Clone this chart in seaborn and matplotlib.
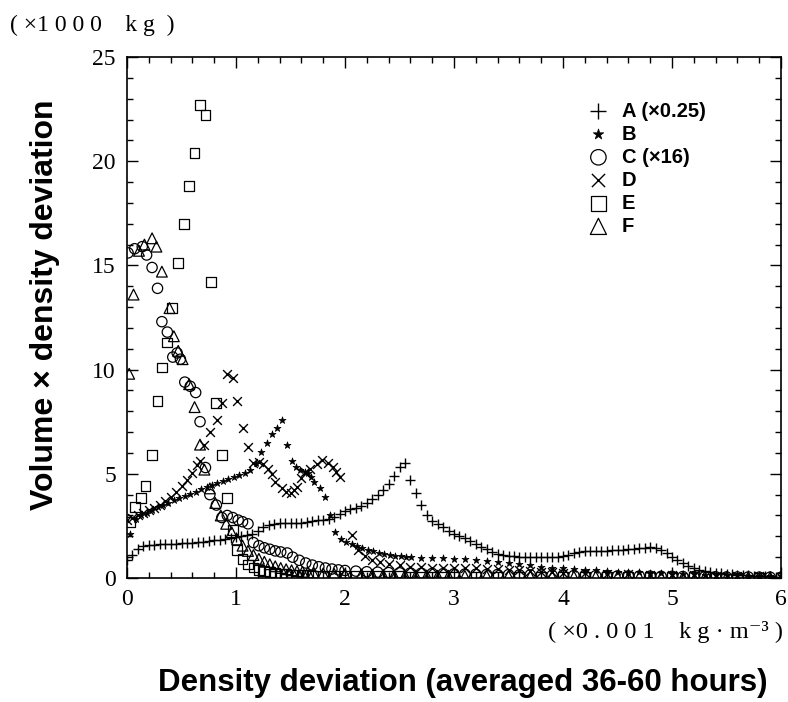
import matplotlib
matplotlib.use("Agg")
import matplotlib.pyplot as plt
import seaborn as sns
from matplotlib.ticker import MultipleLocator

sns.set_theme(style="ticks")
plt.rcParams["font.family"] = ["Liberation Serif", "DejaVu Serif"]
plt.rcParams["text.color"] = "black"

SANS = ["Liberation Sans", "DejaVu Sans"]
SERIF = ["Liberation Serif", "DejaVu Serif"]

# --- data (x: 0.001 kg/m3, y: 1000 kg) ---
A_x = [0.00, 0.05, 0.10, 0.15, 0.20, 0.25, 0.30, 0.35, 0.40, 0.45,
       0.50, 0.55, 0.60, 0.65, 0.70, 0.75, 0.80, 0.85, 0.90, 0.95,
       1.00, 1.05, 1.10, 1.15, 1.20, 1.25, 1.30, 1.35, 1.40, 1.45,
       1.50, 1.55, 1.60, 1.65, 1.70, 1.75, 1.80, 1.85, 1.90, 1.95,
       2.00, 2.05, 2.10, 2.15, 2.20, 2.25, 2.30, 2.35, 2.40, 2.45,
       2.50, 2.55, 2.60, 2.65, 2.70, 2.75, 2.80, 2.85, 2.90, 2.95,
       3.00, 3.05, 3.10, 3.15, 3.20, 3.25, 3.30, 3.35, 3.40, 3.45,
       3.50, 3.55, 3.60, 3.65, 3.70, 3.75, 3.80, 3.85, 3.90, 3.95,
       4.00, 4.05, 4.10, 4.15, 4.20, 4.25, 4.30, 4.35, 4.40, 4.45,
       4.50, 4.55, 4.60, 4.65, 4.70, 4.75, 4.80, 4.85, 4.90, 4.95,
       5.00, 5.05, 5.10, 5.15, 5.20, 5.25, 5.30, 5.35, 5.40, 5.45,
       5.50, 5.55, 5.60, 5.65, 5.70, 5.75, 5.80, 5.85, 5.90, 5.95,
       6.00]
A_y = [0.85, 1.10, 1.40, 1.52, 1.58, 1.60, 1.62, 1.63, 1.64, 1.65,
       1.66, 1.67, 1.70, 1.72, 1.75, 1.78, 1.80, 1.84, 1.87, 1.90,
       1.95, 2.00, 2.05, 2.12, 2.25, 2.45, 2.55, 2.60, 2.62, 2.62,
       2.63, 2.63, 2.65, 2.70, 2.72, 2.76, 2.80, 2.85, 2.92, 3.05,
       3.20, 3.30, 3.38, 3.45, 3.60, 3.80, 4.00, 4.20, 4.50, 4.90,
       5.35, 5.50, 4.70, 4.10, 3.50, 3.00, 2.75, 2.60, 2.45, 2.25,
       2.10, 2.00, 1.90, 1.78, 1.65, 1.50, 1.38, 1.25, 1.15, 1.10,
       1.06, 1.04, 1.02, 1.00, 1.00, 1.00, 1.00, 1.00, 1.00, 1.02,
       1.05, 1.10, 1.18, 1.25, 1.30, 1.30, 1.28, 1.28, 1.30, 1.32,
       1.32, 1.35, 1.38, 1.40, 1.42, 1.45, 1.48, 1.45, 1.35, 1.20,
       1.00, 0.85, 0.70, 0.58, 0.48, 0.40, 0.34, 0.29, 0.25, 0.22,
       0.19, 0.17, 0.15, 0.13, 0.12, 0.11, 0.10, 0.09, 0.08, 0.07,
       0.06]

B_x = [0.03, 0.08, 0.13, 0.18, 0.23, 0.28, 0.33, 0.38, 0.43, 0.48,
       0.53, 0.58, 0.63, 0.68, 0.73, 0.78, 0.83, 0.88, 0.93, 0.98,
       1.03, 1.08, 1.13, 1.18, 1.23, 1.28, 1.33, 1.38, 1.42, 1.47,
       1.51, 1.55, 1.59, 1.63, 1.66, 1.69, 1.72, 1.77, 1.82, 1.86,
       1.91, 1.96, 2.01, 2.06, 2.11, 2.16, 2.21, 2.26, 2.31, 2.36,
       2.41, 2.46, 2.51, 2.56, 2.61, 2.70, 2.80, 2.90, 3.00, 3.10,
       3.20, 3.30, 3.40, 3.50, 3.60, 3.70, 3.80, 3.90, 4.00, 4.10,
       4.20, 4.30, 4.40, 4.50, 4.60, 4.70, 4.80, 4.90, 5.00, 5.10,
       5.20, 5.30, 5.40, 5.50, 5.60, 5.70, 5.80, 5.90, 6.00]
B_y = [2.10, 2.85, 3.00, 3.12, 3.25, 3.40, 3.52, 3.62, 3.72, 3.85,
       3.95, 4.05, 4.15, 4.25, 4.35, 4.45, 4.55, 4.65, 4.75, 4.85,
       4.95, 5.05, 5.20, 5.50, 6.05, 6.50, 6.90, 7.20, 7.60, 6.40,
       5.60, 5.35, 5.20, 5.10, 5.05, 4.85, 4.60, 4.30, 3.90, 3.00,
       2.20, 1.85, 1.72, 1.62, 1.52, 1.44, 1.36, 1.28, 1.21, 1.16,
       1.11, 1.07, 1.04, 1.02, 1.00, 0.98, 0.96, 0.95, 0.93, 0.90,
       0.87, 0.83, 0.78, 0.72, 0.66, 0.60, 0.55, 0.50, 0.46, 0.42,
       0.39, 0.36, 0.33, 0.31, 0.29, 0.27, 0.25, 0.23, 0.21, 0.19,
       0.17, 0.16, 0.14, 0.13, 0.12, 0.11, 0.10, 0.09, 0.08]

C_x = [0.01, 0.07, 0.14, 0.18, 0.23, 0.28, 0.32, 0.37, 0.42, 0.46,
       0.49, 0.53, 0.58, 0.63, 0.67, 0.72, 0.76, 0.82, 0.87, 0.92,
       0.97, 1.02, 1.06, 1.11, 1.16, 1.21, 1.26, 1.31, 1.36, 1.41,
       1.47, 1.52, 1.58, 1.64, 1.70, 1.76, 1.82, 1.88, 1.94, 2.00,
       2.10, 2.20, 2.30, 2.40, 2.50, 2.60, 2.70, 2.80, 2.90, 3.00,
       3.10, 3.20, 3.30, 3.40, 3.50, 3.60, 3.70, 3.80, 3.90, 4.00,
       4.10, 4.20, 4.30, 4.40, 4.50, 4.60, 4.70, 4.80, 4.90, 5.00,
       5.10, 5.20, 5.30, 5.40, 5.50, 5.60, 5.70, 5.80, 5.90, 6.00]
C_y = [15.60, 15.80, 15.90, 15.50, 14.90, 13.90, 12.30, 11.80, 10.60, 10.80,
       10.50, 9.40, 9.20, 8.90, 7.50, 5.30, 4.00, 3.50, 2.90, 3.00,
       2.90, 2.78, 2.70, 2.60, 1.70, 1.55, 1.45, 1.38, 1.30, 1.25,
       1.20, 1.00, 0.85, 0.72, 0.62, 0.54, 0.48, 0.43, 0.39, 0.36,
       0.33, 0.30, 0.28, 0.26, 0.25, 0.24, 0.23, 0.22, 0.21, 0.20,
       0.19, 0.18, 0.17, 0.17, 0.16, 0.15, 0.15, 0.14, 0.13, 0.13,
       0.12, 0.12, 0.11, 0.11, 0.10, 0.10, 0.09, 0.09, 0.08, 0.08,
       0.07, 0.07, 0.06, 0.06, 0.05, 0.05, 0.05, 0.04, 0.04, 0.04]

D_x = [0.00, 0.05, 0.10, 0.15, 0.20, 0.25, 0.30, 0.35, 0.40, 0.45,
       0.50, 0.55, 0.60, 0.64, 0.67, 0.71, 0.76, 0.83, 0.87, 0.92,
       0.97, 1.01, 1.06, 1.11, 1.16, 1.21, 1.25, 1.29, 1.33, 1.36,
       1.42, 1.46, 1.50, 1.53, 1.56, 1.60, 1.63, 1.68, 1.74, 1.79,
       1.84, 1.89, 1.92, 1.95, 2.06, 2.12, 2.18, 2.25, 2.32, 2.40,
       2.50, 2.60, 2.70, 2.80, 2.90, 3.00, 3.10, 3.20, 3.30, 3.40,
       3.50, 3.60, 3.70, 3.80, 3.90, 4.00, 4.20, 4.40, 4.60, 4.80,
       5.00, 5.20, 5.40, 5.60, 5.80, 6.00]
D_y = [2.80, 2.90, 3.02, 3.12, 3.25, 3.38, 3.52, 3.70, 3.90, 4.15,
       4.40, 4.70, 5.05, 5.40, 5.60, 6.40, 7.00, 7.60, 8.40, 9.80,
       9.60, 8.50, 7.20, 6.30, 5.50, 5.55, 5.45, 5.25, 5.00, 4.60,
       4.30, 4.15, 4.10, 4.20, 4.35, 4.80, 5.10, 5.25, 5.45, 5.66,
       5.50, 5.35, 5.10, 4.85, 2.06, 1.35, 1.05, 0.88, 0.76, 0.67,
       0.60, 0.55, 0.52, 0.50, 0.49, 0.48, 0.47, 0.46, 0.45, 0.43,
       0.40, 0.37, 0.34, 0.31, 0.28, 0.26, 0.23, 0.20, 0.18, 0.16,
       0.14, 0.12, 0.10, 0.09, 0.08, 0.07]

E_x = [0.03, 0.07, 0.13, 0.17, 0.23, 0.28, 0.32, 0.37, 0.41, 0.47,
       0.52, 0.57, 0.62, 0.67, 0.72, 0.77, 0.82, 0.87, 0.92, 0.97,
       1.01, 1.06, 1.11, 1.16, 1.21, 1.26, 1.31, 1.36, 1.41, 1.46,
       1.51, 1.56, 1.61, 1.66, 1.71, 1.80, 1.90, 2.00, 2.10, 2.20,
       2.30, 2.40, 2.50, 2.60, 2.70, 2.80, 2.90, 3.00, 3.20, 3.40,
       3.60, 3.80, 4.00, 4.20, 4.40, 4.60, 4.80, 5.00, 5.20, 5.40,
       5.60, 5.80, 6.00]
E_y = [2.70, 3.40, 3.84, 4.40, 5.90, 8.50, 10.10, 11.30, 12.95, 15.10,
       17.00, 18.80, 20.40, 22.70, 22.20, 14.20, 8.40, 5.90, 3.84, 2.30,
       1.34, 0.90, 0.65, 0.50, 0.40, 0.33, 0.28, 0.24, 0.21, 0.19,
       0.17, 0.15, 0.14, 0.13, 0.12, 0.11, 0.10, 0.09, 0.09, 0.09,
       0.08, 0.08, 0.08, 0.07, 0.07, 0.07, 0.06, 0.06, 0.06, 0.05,
       0.05, 0.05, 0.04, 0.04, 0.04, 0.03, 0.03, 0.03, 0.03, 0.02,
       0.02, 0.02, 0.02]

F_x = [0.02, 0.06, 0.11, 0.16, 0.23, 0.27, 0.32, 0.39, 0.43, 0.47,
       0.51, 0.57, 0.62, 0.67, 0.71, 0.76, 0.81, 0.86, 0.91, 0.96,
       1.01, 1.06, 1.11, 1.16, 1.21, 1.26, 1.31, 1.36, 1.41, 1.46,
       1.51, 1.56, 1.61, 1.66, 1.71, 1.80, 1.90, 2.00, 2.15, 2.25,
       2.35, 2.45, 2.55, 2.65, 2.75, 2.85, 2.95, 3.10, 3.30, 3.50,
       3.70, 3.90, 4.10, 4.30, 4.50, 4.70, 4.90, 5.10, 5.30, 5.50,
       5.70, 5.90]
F_y = [9.80, 13.60, 15.70, 16.00, 16.30, 15.90, 14.70, 12.95, 11.60, 10.90,
       10.50, 9.30, 8.20, 6.40, 5.20, 4.30, 3.60, 3.00, 2.60, 2.20,
       1.85, 1.55, 1.30, 1.10, 0.92, 0.78, 0.66, 0.56, 0.48, 0.42,
       0.37, 0.33, 0.30, 0.27, 0.25, 0.22, 0.20, 0.18, 0.17, 0.16,
       0.15, 0.14, 0.13, 0.12, 0.12, 0.11, 0.11, 0.10, 0.10, 0.09,
       0.08, 0.08, 0.07, 0.07, 0.06, 0.06, 0.05, 0.05, 0.05, 0.04,
       0.04, 0.04]

fig = plt.figure(figsize=(7.88, 7.02), dpi=100)
ax = fig.add_axes([127 / 788, 1 - 578 / 702, 654 / 788, 521 / 702])

line_kw = dict(color="black", linewidth=1.0, ax=ax)
hollow_kw = dict(color="black", facecolor="none", edgecolor="black", linewidth=0.9, ax=ax)

sns.scatterplot(x=A_x, y=A_y, marker="+", s=55, label="A (\u00d70.25)", **line_kw)
sns.scatterplot(x=B_x, y=B_y, marker="*", s=28, label="B", color="black",
                edgecolor="black", linewidth=0.5, ax=ax)
sns.scatterplot(x=C_x, y=C_y, marker="o", s=55, label="C (\u00d716)", **hollow_kw)
sns.scatterplot(x=D_x, y=D_y, marker="x", s=40, label="D", **line_kw)
sns.scatterplot(x=E_x, y=E_y, marker="s", s=50, label="E", **hollow_kw)
sns.scatterplot(x=F_x, y=F_y, marker="^", s=60, label="F", **hollow_kw)

ax.set_xlim(0, 6)
ax.set_ylim(0, 25)
ax.xaxis.set_major_locator(MultipleLocator(1))
ax.xaxis.set_minor_locator(MultipleLocator(0.2))
ax.yaxis.set_major_locator(MultipleLocator(5))
ax.yaxis.set_minor_locator(MultipleLocator(1))
ax.tick_params(which="both", direction="in", top=True, right=True,
               colors="black", width=1.0)
ax.tick_params(which="major", length=8, labelsize=17, pad=8)
ax.tick_params(which="minor", length=4.5)
for lab in ax.get_xticklabels() + ax.get_yticklabels():
    lab.set_family(SERIF)
for sp in ax.spines.values():
    sp.set_visible(True)
    sp.set_color("black")
    sp.set_linewidth(1.2)
ax.set_xlabel("")
ax.set_ylabel("")

leg = ax.legend(loc="upper left", bbox_to_anchor=(0.69, 0.93), frameon=False,
                handlelength=1.2, handletextpad=0.55, labelspacing=0.2,
                markerscale=1.5, borderaxespad=0,
                prop={"family": SANS, "weight": "bold", "size": 14.5})

fig.text(0.013, 1 - 25 / 702, "( \u00d71 0 0 0    k g  )", family=SERIF,
         fontsize=17, ha="left", va="center")
fig.text(783 / 788, 1 - 632 / 702, "( \u00d70 . 0 0 1    k g \u00b7 m\u207b\u00b3 )",
         family=SERIF, fontsize=17.5, ha="right", va="center")
fig.text(463 / 788, 1 - 683 / 702, "Density deviation (averaged 36-60 hours)",
         family=SANS, fontweight="bold", fontsize=22.5, ha="center", va="center")
fig.text(45 / 788, 1 - 305 / 702, "Volume \u00d7 density deviation",
         family=SANS, fontweight="bold", fontsize=23, rotation=90,
         ha="center", va="center")

fig.savefig("out.png", dpi=100)
